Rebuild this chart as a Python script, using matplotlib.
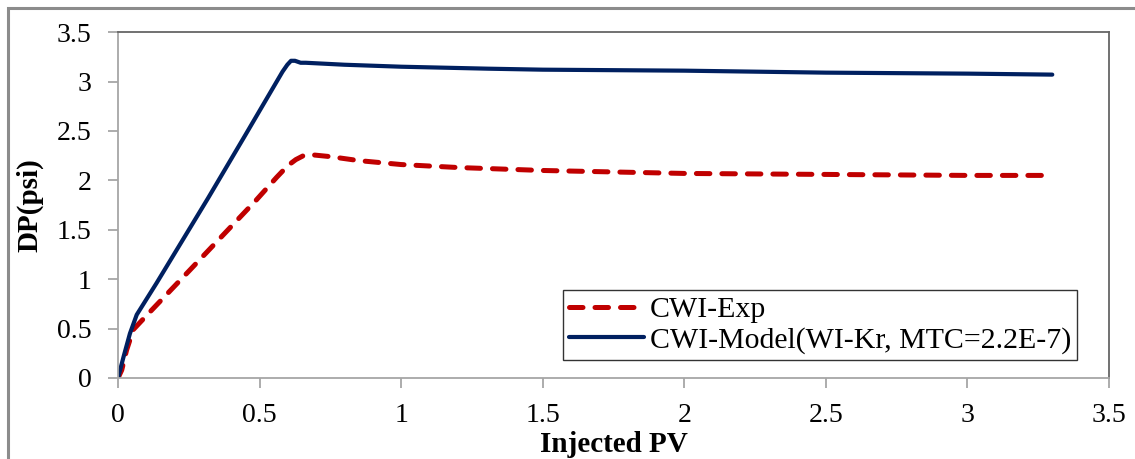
import numpy as np
import matplotlib
matplotlib.use("Agg")
import matplotlib.pyplot as plt
from matplotlib.patches import Rectangle

# -----------------------------
# DATA (pressure drop vs injected pore volumes)
# -----------------------------
pv_exp = [0, 0.013, 0.03, 0.054, 0.1, 0.253, 0.488, 0.56, 0.60, 0.628, 0.655, 0.68,
          0.75, 0.85, 1.0, 1.2, 1.5, 2.0, 2.5, 3.0, 3.3]
dp_exp = [0, 0.08, 0.28, 0.49, 0.63, 1.09, 1.80, 2.03, 2.15, 2.21, 2.25, 2.26,
          2.24, 2.20, 2.16, 2.13, 2.10, 2.07, 2.06, 2.05, 2.05]

pv_model = [0, 0.02, 0.042, 0.066, 0.136, 0.318, 0.45, 0.581, 0.598, 0.611, 0.625,
            0.645, 0.663, 0.8, 1.0, 1.308, 1.5, 2.0, 2.5, 3.0, 3.3]
dp_model = [0, 0.22, 0.45, 0.64, 0.96, 1.82, 2.46, 3.10, 3.17, 3.21, 3.21,
            3.19, 3.19, 3.17, 3.15, 3.13, 3.12, 3.11, 3.09, 3.08, 3.07]

label_exp = "CWI-Exp"
label_model = "CWI-Model(WI-Kr, MTC=2.2E-7)"

x_ticks = [0, 0.5, 1, 1.5, 2, 2.5, 3, 3.5]
y_ticks = [0, 0.5, 1, 1.5, 2, 2.5, 3, 3.5]

# -----------------------------
# PLOT
# -----------------------------
plt.rcParams['font.family'] = ['Liberation Serif', 'DejaVu Serif']

fig = plt.figure(figsize=(11.35, 4.59), dpi=100)
ax = fig.add_axes([0.104, 0.1765, 0.873, 0.7535])

red, = ax.plot(pv_exp, dp_exp, color="#c00000", linewidth=3.6,
               solid_capstyle="round", dash_capstyle="round", label=label_exp)
red.set_dashes((2.7, 2.4))
ax.plot(pv_model, dp_model, color="#002060", linewidth=3.0,
        solid_capstyle="round", label=label_model)

ax.set_xlim(0, 3.5)
ax.set_ylim(0, 3.5)
ax.set_xticks(x_ticks)
ax.set_yticks(y_ticks)
ax.set_xticklabels([f"{v:g}" for v in x_ticks])
ax.set_yticklabels([f"{v:g}" for v in y_ticks])

axis_grey = "#a6a6a6"
for side in ("left", "bottom"):
    ax.spines[side].set_color(axis_grey)
    ax.spines[side].set_linewidth(1.3)
for side in ("top", "right"):
    ax.spines[side].set_color("#666666")
    ax.spines[side].set_linewidth(1.3)

ax.tick_params(axis="both", direction="out", length=7, width=1.3,
               color=axis_grey, labelsize=20)
ax.tick_params(axis="y", pad=12)
ax.tick_params(axis="x", pad=11)

ax.set_xlabel("Injected PV", fontsize=21, fontweight="bold", labelpad=2)
ax.set_ylabel("DP(psi)", fontsize=21, fontweight="bold", labelpad=10)

leg = ax.legend(loc="lower right", bbox_to_anchor=(0.968, 0.052), fontsize=21.5,
                frameon=True, fancybox=False, edgecolor="black",
                handlelength=2.5, handletextpad=0.2, borderpad=0.2,
                labelspacing=0.12, borderaxespad=0)
leg.get_frame().set_linewidth(1.0)

# grey frame around the whole chart
fig.add_artist(Rectangle((8 / 1135, -0.1), 1.2, (459 - 8) / 459 + 0.1,
                         transform=fig.transFigure, fill=False,
                         edgecolor="#8c8c8c", linewidth=2.2))

fig.savefig("out.png", dpi=100)
